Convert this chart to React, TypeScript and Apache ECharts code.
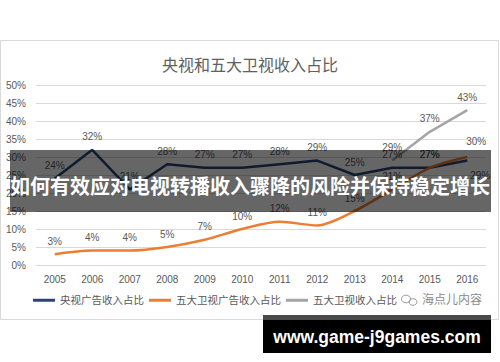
import React, { useEffect, useRef } from "react";
import * as echarts from "echarts";

const years = ["2005", "2006", "2007", "2008", "2009", "2010", "2011", "2012", "2013", "2014", "2015", "2016"];
const cctvAd = [24, 32, 21, 28, 27, 27, 28, 29, 25, 27, 27, 29];
const fiveAd = [3, 4, 4, 5, 7, 10, 12, 11, 15, 21, 27, 30];
const fiveIncome: (number | string)[] = ["-", "-", "-", "-", "-", "-", "-", "-", "-", 29, 37, 43];
const seriesNames = ["央视广告收入占比", "五大卫视广告收入占比", "五大卫视收入占比"];
const titleText = "央视和五大卫视收入占比";
const bannerText = "如何有效应对电视转播收入骤降的风险并保持稳定增长";
const siteText = "www.game-j9games.com";
const watermarkText = "海点儿内容";

const FONT = "'Liberation Sans', 'Noto Sans CJK SC', sans-serif";
const GRAY_TEXT = "#595959";

export default function App() {
  const ref = useRef<HTMLDivElement>(null);
  useEffect(() => {
    if (!ref.current) return;
    const chart = echarts.init(ref.current, undefined, { renderer: "svg" });
    const labelBase = {
      show: true,
      position: "top" as const,
      distance: 8,
      color: GRAY_TEXT,
      fontSize: 10,
      fontFamily: FONT,
      formatter: "{c}%",
    };
    const blueData = cctvAd.map((v, i) =>
      i === cctvAd.length - 1 ? { value: v, label: { position: "bottom", offset: [13, 2] } } : v
    );
    const orangeData = fiveAd.map((v, i) =>
      i === fiveAd.length - 1 ? { value: v, label: { offset: [9, -3] } } : v
    );
    chart.setOption({
      animation: false,
      backgroundColor: "#fff",
      textStyle: { fontFamily: FONT },
      title: {
        text: titleText,
        left: "center",
        top: 52,
        textStyle: { fontSize: 16, fontWeight: "normal", color: "#606060", fontFamily: FONT },
      },
      grid: { left: 36, right: 14, top: 85, bottom: 97, containLabel: false },
      legend: {
        left: 33,
        top: 295,
        padding: 0,
        itemWidth: 22,
        itemHeight: 3,
        itemGap: 5,
        icon: "rect",
        textStyle: { fontSize: 10.5, color: GRAY_TEXT, fontFamily: FONT },
        data: seriesNames,
      },
      xAxis: {
        type: "category",
        data: years,
        boundaryGap: true,
        axisLine: { lineStyle: { color: "#d9d9d9", width: 1 } },
        axisTick: { show: false },
        axisLabel: { color: GRAY_TEXT, fontSize: 10, margin: 9, fontFamily: FONT },
      },
      yAxis: {
        type: "value",
        min: 0,
        max: 50,
        interval: 5,
        axisLine: { show: false },
        axisTick: { show: false },
        splitLine: { lineStyle: { color: "#d9d9d9", width: 1 } },
        axisLabel: { formatter: "{value}%", color: GRAY_TEXT, fontSize: 10, margin: 10, fontFamily: FONT },
      },
      series: [
        {
          name: seriesNames[0],
          type: "line",
          data: blueData,
          color: "#2B4573",
          lineStyle: { width: 2.5 },
          symbol: "circle",
          symbolSize: 0,
          showSymbol: true,
          label: labelBase,
        },
        {
          name: seriesNames[1],
          type: "line",
          data: orangeData,
          color: "#ED7D31",
          smooth: 0.3,
          lineStyle: { width: 2.5 },
          symbol: "circle",
          symbolSize: 0,
          showSymbol: true,
          label: labelBase,
        },
        {
          name: seriesNames[2],
          type: "line",
          data: fiveIncome,
          color: "#A5A5A5",
          lineStyle: { width: 2.5 },
          symbol: "circle",
          symbolSize: 0,
          showSymbol: true,
          label: labelBase,
        },
      ],
      graphic: [
        {
          type: "rect",
          z: 0,
          silent: true,
          shape: { x: 0.5, y: 40.5, width: 498, height: 279 },
          style: { fill: "none", stroke: "#d9d9d9", lineWidth: 1 },
        },
        {
          type: "ellipse",
          z: 50,
          shape: { cx: 406, cy: 299, rx: 4.5, ry: 3.8 },
          style: { fill: "none", stroke: "#9a9a9a", lineWidth: 1 },
        },
        {
          type: "ellipse",
          z: 50,
          shape: { cx: 413, cy: 302, rx: 4, ry: 3.3 },
          style: { fill: "none", stroke: "#9a9a9a", lineWidth: 1 },
        },
        {
          type: "text",
          z: 50,
          x: 422,
          y: 300,
          style: {
            text: watermarkText,
            fill: "#8a8a8a",
            fontSize: 12,
            fontFamily: FONT,
            verticalAlign: "middle",
          },
        },
        {
          type: "rect",
          z: 100,
          shape: { x: 10, y: 150, width: 481, height: 62 },
          style: { fill: "rgba(0,0,0,0.6)" },
        },
        {
          type: "text",
          z: 101,
          x: 250,
          y: 185.5,
          style: {
            text: bannerText,
            fill: "#ffffff",
            fontSize: 20,
            fontWeight: "bold",
            fontFamily: "'Noto Sans CJK SC', sans-serif",
            align: "center",
            verticalAlign: "middle",
          },
        },
        {
          type: "rect",
          z: 100,
          shape: { x: 263, y: 315, width: 228, height: 38 },
          style: { fill: "#000000" },
        },
        {
          type: "rect",
          z: 101,
          shape: { x: 263, y: 315, width: 228, height: 5 },
          style: { fill: "#4a4a4a" },
        },
        {
          type: "text",
          z: 102,
          x: 377,
          y: 337,
          style: {
            text: siteText,
            fill: "#ffffff",
            fontSize: 17.5,
            fontWeight: "bold",
            fontFamily: "'Liberation Sans', sans-serif",
            align: "center",
            verticalAlign: "middle",
          },
        },
      ],
    });
    return () => chart.dispose();
  }, []);
  return (
    <div
      ref={ref}
      style={{ position: "fixed", left: 0, top: 0, width: 500, height: 362, background: "#fff" }}
    />
  );
}
